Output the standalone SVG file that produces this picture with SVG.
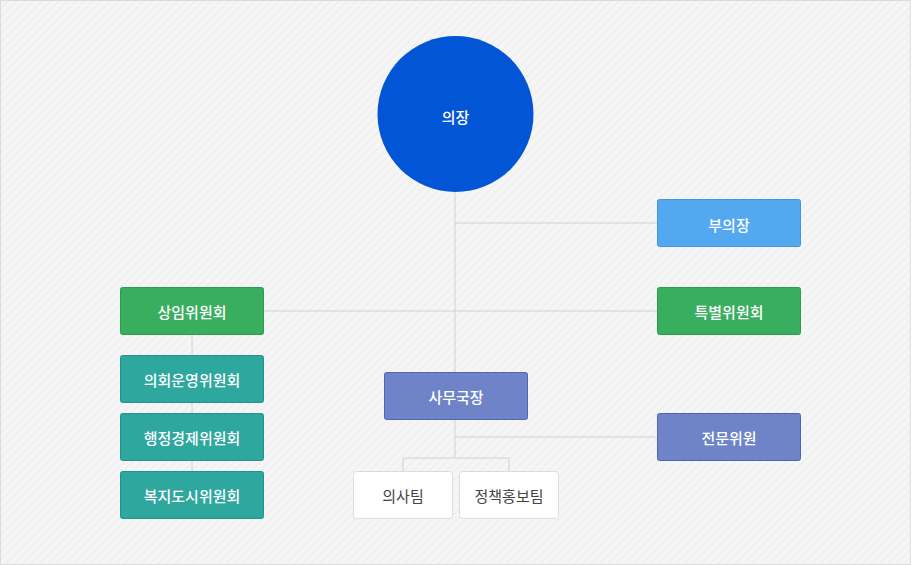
<svg xmlns="http://www.w3.org/2000/svg" width="911" height="565" viewBox="0 0 911 565">
<defs>
<pattern id="bg" width="6" height="6" patternUnits="userSpaceOnUse" patternTransform="rotate(45)">
<rect width="6" height="6" fill="#f5f5f5"/>
<line x1="0" y1="0" x2="0" y2="6" stroke="#e6e6e6" stroke-width="1.2"/>
</pattern>
<style>
text{font-family:"Noto Sans CJK KR","Noto Sans",sans-serif;font-size:15px;text-anchor:middle;dominant-baseline:central}
.w{fill:#fff;font-weight:500}
.g{fill:#444}
.c line{stroke:#d2d2d2;stroke-width:1}
</style>
</defs>
<rect x="0.5" y="0.5" width="910" height="564" fill="url(#bg)" stroke="#dcdcdc"/>
<g class="c" id="connectors">
<line x1="455" y1="192" x2="455" y2="372"/>
<line x1="455" y1="223" x2="657" y2="223"/>
<line x1="263" y1="311" x2="657" y2="311"/>
<line x1="192" y1="334" x2="192" y2="471"/>
<line x1="455" y1="419" x2="455" y2="458"/>
<line x1="455" y1="437" x2="657" y2="437"/>
<line x1="403" y1="458" x2="509" y2="458"/>
<line x1="403" y1="458" x2="403" y2="471"/>
<line x1="509" y1="458" x2="509" y2="471"/>
</g>
<g id="chair"><circle cx="455.5" cy="114" r="78" fill="#0256d6"/><text class="w" x="455.5" y="116">의장</text></g>
<g id="vice"><rect x="657.5" y="199.5" width="143" height="47" rx="2" fill="#53a8f0" stroke="#3f95e0"/><text class="w" x="729" y="224">부의장</text></g>
<g id="standing"><rect x="120.5" y="287.5" width="143" height="47" rx="2" fill="#3aae5f" stroke="#2f9a50"/><text class="w" x="192" y="311">상임위원회</text></g>
<g id="special"><rect x="657.5" y="287.5" width="143" height="47" rx="2" fill="#3aae5f" stroke="#2f9a50"/><text class="w" x="729" y="311">특별위원회</text></g>
<g id="c1"><rect x="120.5" y="355.5" width="143" height="47" rx="2" fill="#2ea79f" stroke="#24928a"/><text class="w" x="192" y="379">의회운영위원회</text></g>
<g id="c2"><rect x="120.5" y="413.5" width="143" height="47" rx="2" fill="#2ea79f" stroke="#24928a"/><text class="w" x="192" y="437">행정경제위원회</text></g>
<g id="c3"><rect x="120.5" y="471.5" width="143" height="47" rx="2" fill="#2ea79f" stroke="#24928a"/><text class="w" x="192" y="495">복지도시위원회</text></g>
<g id="secretary"><rect x="384.5" y="372.5" width="143" height="47" rx="2" fill="#6e83c8" stroke="#4f66b5"/><text class="w" x="456" y="396">사무국장</text></g>
<g id="expert"><rect x="657.5" y="413.5" width="143" height="47" rx="2" fill="#6e83c8" stroke="#4f66b5"/><text class="w" x="729" y="437">전문위원</text></g>
<g id="team1"><rect x="353.5" y="471.5" width="99" height="47" rx="3" fill="#fff" stroke="#dcdcdc"/><text class="g" x="403" y="495">의사팀</text></g>
<g id="team2"><rect x="459.5" y="471.5" width="99" height="47" rx="3" fill="#fff" stroke="#dcdcdc"/><text class="g" x="509" y="495">정책홍보팀</text></g>
</svg>
